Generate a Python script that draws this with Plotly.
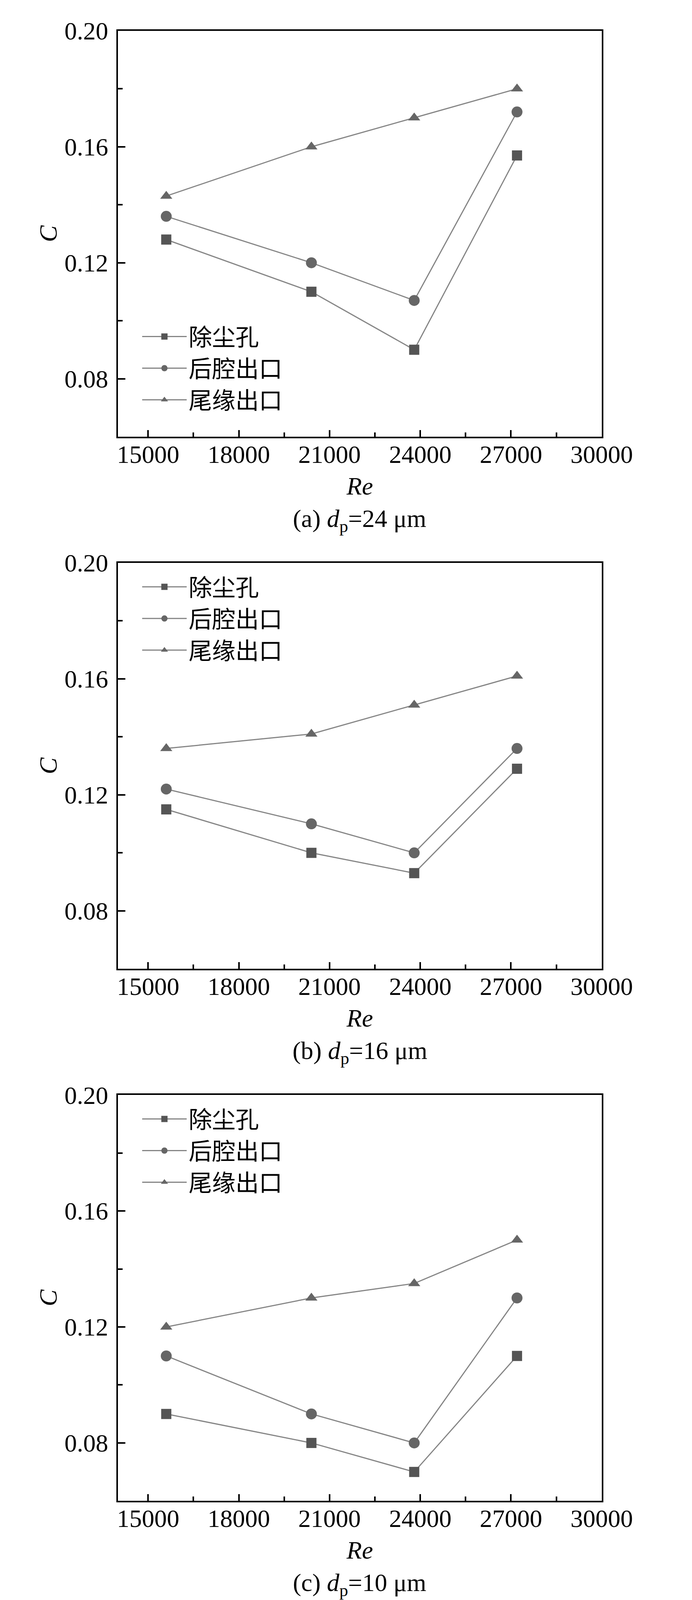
import plotly.graph_objects as go

# ---- data ----
re = [15600, 20400, 23800, 27200]

# (a) dp = 24 um
dust_hole_a = [0.128, 0.110, 0.090, 0.157]
rear_cavity_a = [0.136, 0.120, 0.107, 0.172]
trailing_edge_a = [0.143, 0.160, 0.170, 0.180]

# (b) dp = 16 um
dust_hole_b = [0.115, 0.100, 0.093, 0.129]
rear_cavity_b = [0.122, 0.110, 0.100, 0.136]
trailing_edge_b = [0.136, 0.141, 0.151, 0.161]

# (c) dp = 10 um
dust_hole_c = [0.090, 0.080, 0.070, 0.110]
rear_cavity_c = [0.110, 0.090, 0.080, 0.130]
trailing_edge_c = [0.120, 0.130, 0.135, 0.150]

# (d) dp = 6 um
dust_hole_d = [0.122, 0.107, 0.093, 0.136]
rear_cavity_d = [0.129, 0.122, 0.107, 0.143]
trailing_edge_d = [0.150, 0.165, 0.179, 0.186]

series_names = ["除尘孔", "后腔出口", "尾缘出口"]
captions = ["(a) <i>d</i><sub>p</sub>=24 μm", "(b) <i>d</i><sub>p</sub>=16 μm",
            "(c) <i>d</i><sub>p</sub>=10 μm", "(d) <i>d</i><sub>p</sub>=6 μm"]
x_ticks = [15000, 18000, 21000, 24000, 27000, 30000]
y_ticks = [0.08, 0.12, 0.16, 0.20]

panels = [
    (dust_hole_a, rear_cavity_a, trailing_edge_a),
    (dust_hole_b, rear_cavity_b, trailing_edge_b),
    (dust_hole_c, rear_cavity_c, trailing_edge_c),
    (dust_hole_d, rear_cavity_d, trailing_edge_d),
]

# ---- layout (pixels) ----
W, H = 1772, 5441
x_left, x_right = 306, 1605
tops = [36, 1407, 2778, 4133]
ph = 1046
serif = "Liberation Serif, Times New Roman, serif"
cjk = "Noto Sans CJK SC"

symbols = ["square", "circle", "triangle-up"]
msizes = [26, 28, 27]
mcolors = ["#555555", "#666666", "#666666"]

fig = go.Figure()

for i, vals in enumerate(panels):
    n = "" if i == 0 else str(i + 1)
    leg = "legend" + n
    for k, v in enumerate(vals):
        fig.add_trace(go.Scatter(
            x=re, y=v, mode="lines+markers", name=series_names[k],
            xaxis="x" + n, yaxis="y" + n, legend=leg,
            line=dict(color="#858585", width=3),
            marker=dict(symbol=symbols[k], size=msizes[k], color=mcolors[k]),
        ))

    top = tops[i]
    bottom = top + ph
    fig.update_layout({
        "xaxis" + n: dict(
            domain=[x_left / W, x_right / W], anchor="y" + n,
            range=[14000, 30000], tickvals=x_ticks, tickformat="d",
            ticks="inside", ticklen=17, tickwidth=4, tickcolor="black",
            minor=dict(dtick=1500, tick0=15000, ticks="inside", ticklen=11,
                       tickwidth=4, tickcolor="black"),
            showline=True, linewidth=4, linecolor="black", mirror=True,
            showgrid=False, zeroline=False,
            tickfont=dict(family=serif, size=64, color="black"),
            ticklabelstandoff=-14,
            title=dict(text="<i>Re</i>", standoff=24,
                       font=dict(family=serif, size=64, color="black")),
        ),
        "yaxis" + n: dict(
            domain=[1 - bottom / H, 1 - top / H], anchor="x" + n,
            range=[0.06, 0.20], tickvals=y_ticks, tickformat=".2f",
            ticks="inside", ticklen=19, tickwidth=4, tickcolor="black",
            minor=dict(dtick=0.02, tick0=0.06, ticks="inside", ticklen=12,
                       tickwidth=4, tickcolor="black"),
            showline=True, linewidth=4, linecolor="black", mirror=True,
            showgrid=False, zeroline=False,
            tickfont=dict(family=serif, size=64, color="black"),
            ticklabelstandoff=8,
            title=dict(text="<i>C</i>", standoff=0,
                       font=dict(family=serif, size=64, color="black")),
        ),
    })

    # legend: panel (a) bottom-left, others top-left
    if i == 0:
        ly = 1 - 778 / H
    else:
        ly = 1 - (top + 16) / H
    fig.update_layout({
        leg: dict(
            x=366 / W, y=ly, xanchor="left", yanchor="top",
            bgcolor="rgba(0,0,0,0)", borderwidth=0, itemwidth=114,
            tracegroupgap=0, traceorder="normal",
            font=dict(family=cjk, size=60, color="black"),
        )
    })

    fig.add_annotation(
        text=captions[i], xref="paper", yref="paper",
        x=(x_left + x_right) / 2 / W, y=1 - (bottom + 215) / H,
        xanchor="center", yanchor="middle", showarrow=False,
        font=dict(family=serif, size=64, color="black"),
    )

fig.update_layout(
    width=W, height=H, margin=dict(l=0, r=0, t=0, b=0),
    paper_bgcolor="white", plot_bgcolor="white",
)

fig.write_html("out.html")
